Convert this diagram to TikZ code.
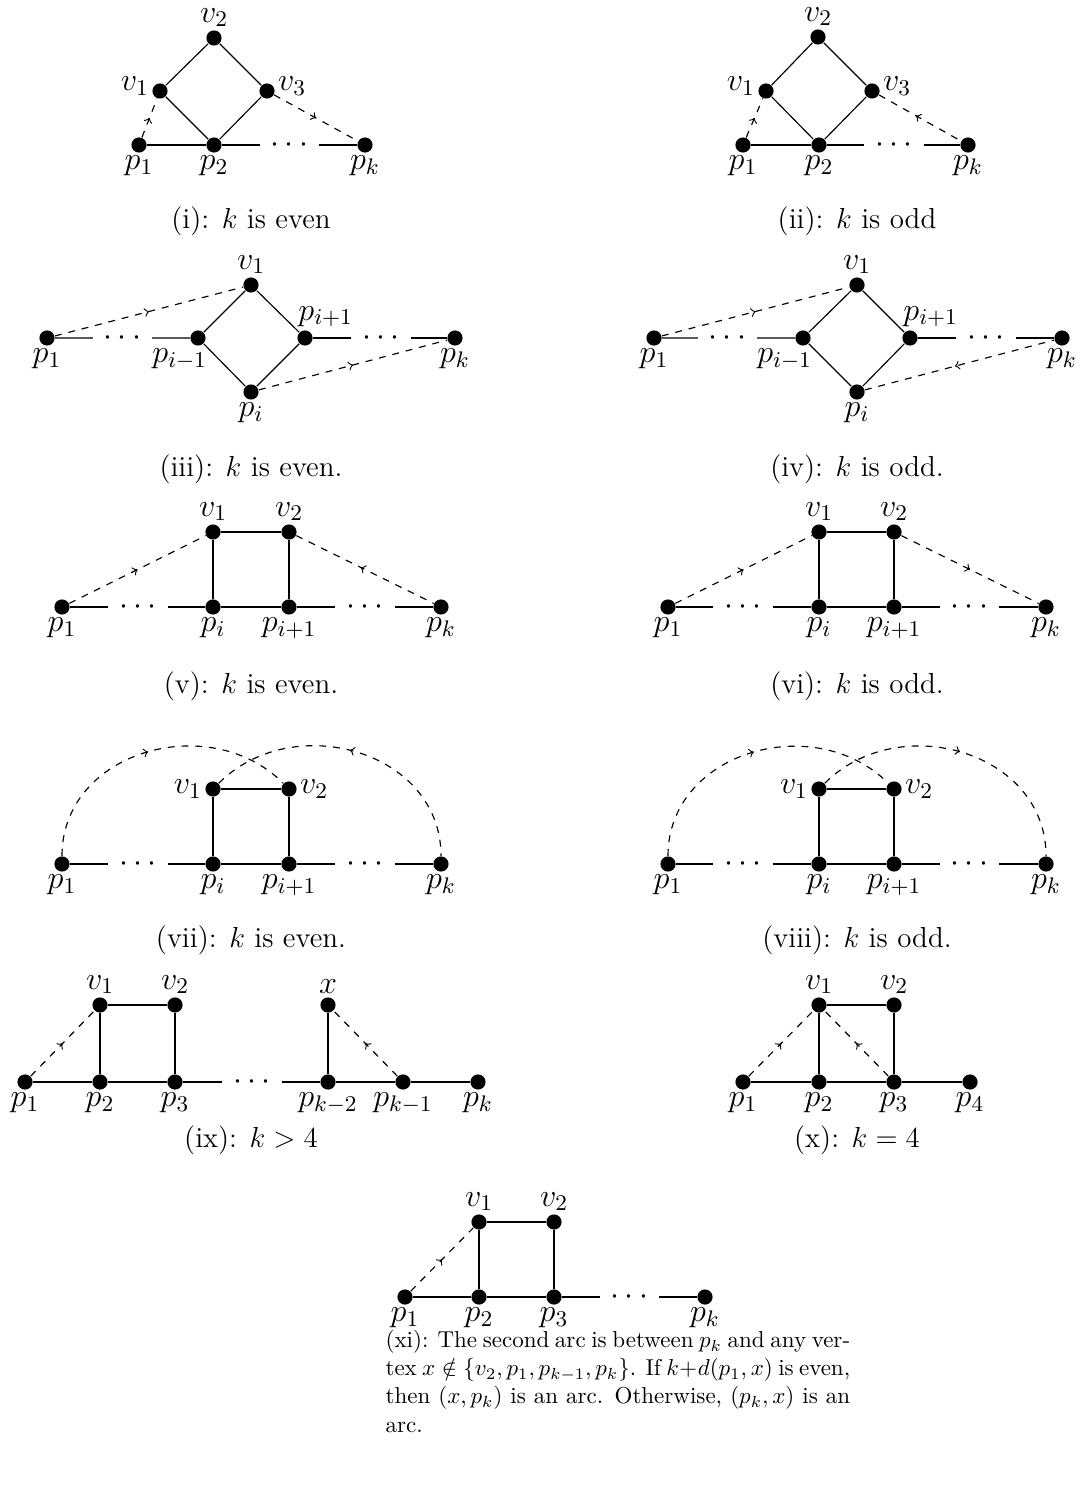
\documentclass[tikz,border=0pt]{standalone}
\usepackage{fix-cm}
\usetikzlibrary{decorations.markings}
\begin{document}
\begin{tikzpicture}[x=0.4348pt,y=-0.4348pt,
  dot/.style={circle,fill=black,inner sep=0pt,minimum size=6.6pt},
  every label/.style={inner sep=1pt,font=\fontsize{14}{16}\selectfont},
  label distance=0pt,
  dd/.style={inner xsep=4.5pt,inner ysep=0pt,font=\fontsize{14}{16}\selectfont},
  fwd/.style={dashed,postaction={decorate},decoration={markings,mark=at position #1 with {\arrow{>}}}},
  fwd/.default=0.5,
  bwd/.style={dashed,postaction={decorate},decoration={markings,mark=at position #1 with {\arrow{<}}}},
  bwd/.default=0.5,
  captxt/.style={inner sep=0pt,font=\fontsize{12.6}{15}\selectfont},
  line width=0.5pt]
\useasboundingbox (0,0) rectangle (1079,1494);

% (i)
\node[dot,label={above:$v_2$}] (a2) at (214,38) {};
\node[dot,label={[yshift=2pt]left:$v_1$}] (a1) at (160,91) {};
\node[dot,label={[yshift=2pt]right:$v_3$}] (a3) at (267,91) {};
\node[dot,label={below:$p_1$}] (ap1) at (139,145) {};
\node[dot,label={below:$p_2$}] (ap2) at (214,145) {};
\node[dot,label={below:$p_k$}] (apk) at (365,145) {};
\node[dd] (ad) at (289.5,145) {$\cdots$};
\draw (a1)--(a2)--(a3)--(ap2)--(a1);
\draw (ap1)--(ap2)--(ad)--(apk);
\draw[fwd] (ap1)--(a1);
\draw[fwd] (a3)--(apk);
\node[captxt] (capa) at (251,221) {(i): $k$ is even};

% (ii)
\node[dot,label={above:$v_2$}] (b2) at (818,37) {};
\node[dot,label={[yshift=2pt]left:$v_1$}] (b1) at (766,91) {};
\node[dot,label={[yshift=2pt]right:$v_3$}] (b3) at (872,91) {};
\node[dot,label={below:$p_1$}] (bp1) at (743,145) {};
\node[dot,label={below:$p_2$}] (bp2) at (819,145) {};
\node[dot,label={below:$p_k$}] (bpk) at (968,145) {};
\node[dd] (bd) at (894,145) {$\cdots$};
\draw (b1)--(b2)--(b3)--(bp2)--(b1);
\draw (bp1)--(bp2)--(bd)--(bpk);
\draw[fwd] (bp1)--(b1);
\draw[bwd] (b3)--(bpk);
\node[captxt] (capb) at (857,221) {(ii): $k$ is odd};

% (iii)
\node[dot,label={below:$p_1$}] (cp1) at (47,338) {};
\node[dd] (cd1) at (122.5,338) {$\cdots$};
\node[dot,label={[xshift=-8pt]below:$p_{i-1}$}] (cpm) at (198,338) {};
\node[dot,label={above:$v_1$}] (cv1) at (251,285) {};
\node[dot,label={[xshift=9pt]above:$p_{i+1}$}] (cpp) at (305,338) {};
\node[dot,label={below:$p_i$}] (cpi) at (251,392) {};
\node[dd] (cd2) at (381,338) {$\cdots$};
\node[dot,label={below:$p_k$}] (cpk) at (455,338) {};
\draw (cp1)--(cd1)--(cpm)--(cv1)--(cpp)--(cpi)--(cpm);
\draw (cpp)--(cd2)--(cpk);
\draw[fwd] (cp1)--(cv1);
\draw[fwd] (cpi)--(cpk);
\node[captxt] (capc) at (251,469) {(iii): $k$ is even.};

% (iv)
\node[dot,label={below:$p_1$}] (dp1) at (654,338) {};
\node[dd] (dd1) at (727.5,338) {$\cdots$};
\node[dot,label={[xshift=-8pt]below:$p_{i-1}$}] (dpm) at (803,338) {};
\node[dot,label={above:$v_1$}] (dv1) at (857,285) {};
\node[dot,label={[xshift=9pt]above:$p_{i+1}$}] (dpp) at (910,338) {};
\node[dot,label={below:$p_i$}] (dpi) at (857,392) {};
\node[dd] (dd2) at (986,338) {$\cdots$};
\node[dot,label={below:$p_k$}] (dpk) at (1062,338) {};
\draw (dp1)--(dd1)--(dpm)--(dv1)--(dpp)--(dpi)--(dpm);
\draw (dpp)--(dd2)--(dpk);
\draw[fwd] (dp1)--(dv1);
\draw[bwd] (dpi)--(dpk);
\node[captxt] (capd) at (857,469) {(iv): $k$ is odd.};

% (v)
\node[dot,label={below:$p_1$}] (ep1) at (62,607) {};
\node[dd] (ed1) at (138,607) {$\cdots$};
\node[dot,label={below:$p_i$}] (epi) at (213,607) {};
\node[dot,label={above:$v_1$}] (ev1) at (213,532) {};
\node[dot,label={above:$v_2$}] (ev2) at (289,532) {};
\node[dot,label={below:$p_{i+1}$}] (epp) at (289,607) {};
\node[dd] (ed2) at (365,607) {$\cdots$};
\node[dot,label={below:$p_k$}] (epk) at (441,607) {};
\draw (ep1)--(ed1)--(epi)--(epp)--(ed2)--(epk);
\draw (epi)--(ev1)--(ev2)--(epp);
\draw[fwd] (ep1)--(ev1);
\draw[bwd] (ev2)--(epk);
\node[captxt] (cape) at (251,686) {(v): $k$ is even.};

% (vi)
\node[dot,label={below:$p_1$}] (fp1) at (668,607) {};
\node[dd] (fd1) at (743,607) {$\cdots$};
\node[dot,label={below:$p_i$}] (fpi) at (819,607) {};
\node[dot,label={above:$v_1$}] (fv1) at (819,532) {};
\node[dot,label={above:$v_2$}] (fv2) at (894,532) {};
\node[dot,label={below:$p_{i+1}$}] (fpp) at (894,607) {};
\node[dd] (fd2) at (969.5,607) {$\cdots$};
\node[dot,label={below:$p_k$}] (fpk) at (1046,607) {};
\draw (fp1)--(fd1)--(fpi)--(fpp)--(fd2)--(fpk);
\draw (fpi)--(fv1)--(fv2)--(fpp);
\draw[fwd] (fp1)--(fv1);
\draw[fwd] (fv2)--(fpk);
\node[captxt] (capf) at (857,686) {(vi): $k$ is odd.};

% (vii)
\node[dot,label={below:$p_1$}] (gp1) at (62,864) {};
\node[dd] (gd1) at (138,864) {$\cdots$};
\node[dot,label={below:$p_i$}] (gpi) at (213,864) {};
\node[dot,label={left:$v_1$}] (gv1) at (213,789) {};
\node[dot,label={right:$v_2$}] (gv2) at (289,789) {};
\node[dot,label={below:$p_{i+1}$}] (gpp) at (289,864) {};
\node[dd] (gd2) at (365,864) {$\cdots$};
\node[dot,label={below:$p_k$}] (gpk) at (441,864) {};
\draw (gp1)--(gd1)--(gpi)--(gpp)--(gd2)--(gpk);
\draw (gpi)--(gv1)--(gv2)--(gpp);
\draw[fwd=0.5] (gp1) to[out=90,in=135,looseness=1.15] (gv2);
\draw[bwd=0.5] (gv1) to[out=45,in=90,looseness=1.15] (gpk);
\node[captxt] (capg) at (251,940) {(vii): $k$ is even.};

% (viii)
\node[dot,label={below:$p_1$}] (hp1) at (668,864) {};
\node[dd] (hd1) at (743,864) {$\cdots$};
\node[dot,label={below:$p_i$}] (hpi) at (819,864) {};
\node[dot,label={left:$v_1$}] (hv1) at (819,789) {};
\node[dot,label={right:$v_2$}] (hv2) at (894,789) {};
\node[dot,label={below:$p_{i+1}$}] (hpp) at (894,864) {};
\node[dd] (hd2) at (969.5,864) {$\cdots$};
\node[dot,label={below:$p_k$}] (hpk) at (1046,864) {};
\draw (hp1)--(hd1)--(hpi)--(hpp)--(hd2)--(hpk);
\draw (hpi)--(hv1)--(hv2)--(hpp);
\draw[fwd=0.5] (hp1) to[out=90,in=135,looseness=1.15] (hv2);
\draw[fwd=0.5] (hv1) to[out=45,in=90,looseness=1.15] (hpk);
\node[captxt] (caph) at (857,940) {(viii): $k$ is odd.};

% (ix)
\node[dot,label={below:$p_1$}] (ip1) at (25,1082) {};
\node[dot,label={below:$p_2$}] (ip2) at (100,1082) {};
\node[dot,label={below:$p_3$}] (ip3) at (175,1082) {};
\node[dd] (id) at (252,1082) {$\cdots$};
\node[dot,label={below:$p_{k-2}$}] (ipa) at (328,1082) {};
\node[dot,label={below:$p_{k-1}$}] (ipb) at (403,1082) {};
\node[dot,label={below:$p_k$}] (ipk) at (478,1082) {};
\node[dot,label={above:$v_1$}] (iv1) at (100,1005) {};
\node[dot,label={above:$v_2$}] (iv2) at (175,1005) {};
\node[dot,label={above:$x$}] (ix) at (328,1005) {};
\draw (ip1)--(ip2)--(ip3)--(id)--(ipa)--(ipb)--(ipk);
\draw (ip2)--(iv1)--(iv2)--(ip3);
\draw (ix)--(ipa);
\draw[fwd] (ip1)--(iv1);
\draw[fwd] (ipb)--(ix);
\node[captxt] (capi) at (251,1140) {(ix): $k>4$};

% (x)
\node[dot,label={below:$p_1$}] (jp1) at (743,1082) {};
\node[dot,label={below:$p_2$}] (jp2) at (819,1082) {};
\node[dot,label={below:$p_3$}] (jp3) at (894,1082) {};
\node[dot,label={below:$p_4$}] (jp4) at (970,1082) {};
\node[dot,label={above:$v_1$}] (jv1) at (819,1005) {};
\node[dot,label={above:$v_2$}] (jv2) at (894,1005) {};
\draw (jp1)--(jp2)--(jp3)--(jp4);
\draw (jp2)--(jv1)--(jv2)--(jp3);
\draw[fwd] (jp1)--(jv1);
\draw[fwd] (jp3)--(jv1);
\node[captxt] (capj) at (857,1140) {(x): $k=4$};

% (xi)
\node[dot,label={below:$p_1$}] (kp1) at (405,1297) {};
\node[dot,label={below:$p_2$}] (kp2) at (479,1297) {};
\node[dot,label={below:$p_3$}] (kp3) at (554,1297) {};
\node[dd] (kd) at (629.5,1297) {$\cdots$};
\node[dot,label={below:$p_k$}] (kpk) at (705,1297) {};
\node[dot,label={above:$v_1$}] (kv1) at (479,1222) {};
\node[dot,label={above:$v_2$}] (kv2) at (554,1222) {};
\draw (kp1)--(kp2)--(kp3)--(kd)--(kpk);
\draw (kp2)--(kv1)--(kv2)--(kp3);
\draw[fwd] (kp1)--(kv1);
\node[captxt,anchor=north west,text width=202pt,align=justify,font=\fontsize{10}{12.2}\selectfont] (capk) at (385,1330)
 {(xi): The second arc is between $p_k$ and any ver-\linebreak tex $x\notin\{v_2,p_1,p_{k-1},p_k\}$. If $k+d(p_1,x)$ is even,\linebreak then $(x,p_k)$ is an arc. Otherwise, $(p_k,x)$ is an\linebreak arc.};
\end{tikzpicture}
\end{document}
